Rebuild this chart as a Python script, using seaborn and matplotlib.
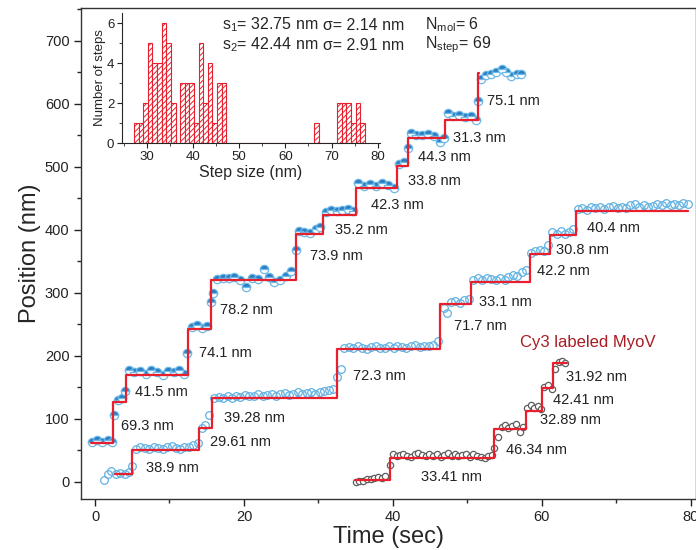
import matplotlib
matplotlib.use("Agg")
import matplotlib.pyplot as plt
from matplotlib.ticker import MultipleLocator
import seaborn as sns

# ---- trace 1 (upper, half filled blue markers) ----
a_time = [-0.4, 0.3, 1.0, 1.7, 2.3, 2.6, 3.1, 3.6, 4.0, 4.5, 5.2, 6.0, 6.8, 7.5, 8.3, 9.1, 9.8,
          10.6, 11.3, 12.0, 12.4, 13.0, 13.7, 14.4, 15.1, 15.6, 15.9, 16.4, 17.2, 18.0, 18.7,
          19.5, 20.3, 21.1, 21.9, 22.7, 23.4, 24.1, 24.9, 25.7, 26.3, 27.0, 27.4, 28.1, 28.9,
          29.7, 30.2, 31.0, 31.7, 32.5, 33.2, 34.0, 34.7, 35.3, 36.1, 36.9, 37.7, 38.5, 39.3,
          40.1, 40.8, 41.5, 42.0, 42.4, 43.1, 43.9, 44.7, 45.5, 46.3, 46.8, 47.4, 48.1, 48.9,
          49.7, 50.5, 51.2, 51.4, 51.8, 52.5, 53.2, 53.9, 54.6, 55.2, 55.9, 56.6, 57.2]
a_pos = [64, 66, 63, 67, 64, 106, 130, 133, 145, 178, 174, 176, 171, 177, 175, 170, 176,
         174, 177, 172, 205, 246, 249, 244, 247, 285, 300, 322, 324, 323, 325,
         321, 310, 324, 322, 338, 326, 318, 320, 327, 334, 368, 398, 396, 395,
         402, 405, 428, 432, 430, 431, 433, 430, 475, 470, 472, 469, 474, 471,
         466, 505, 507, 530, 553, 551, 550, 552, 549, 540, 545, 585, 580, 582,
         579, 580, 575, 605, 640, 645, 648, 650, 655, 651, 644, 648, 647]
a_fit_time = [-0.5, 2.47, 4.14, 12.43, 15.59, 27.03, 30.58, 35.02, 40.55, 42.03, 46.96,
              51.4, 51.5]
a_fit_pos = [62, 127, 170, 242, 320, 393, 423, 466, 501, 546, 575, 649, 649]

# ---- trace 2 (open light blue circles) ----
b_time = [1.2, 1.7, 2.2, 2.8, 3.4, 4.0, 4.5, 4.9, 5.5, 6.1, 6.7, 7.3, 7.9, 8.5, 9.1, 9.7,
          10.3, 10.9, 11.4, 12.0, 12.6, 13.2, 13.8, 14.3, 14.8, 15.3, 16.0, 16.6, 17.2, 17.8,
          18.4, 18.9, 19.5, 20.1, 20.7, 21.3, 21.9, 22.5, 23.1, 23.7, 24.3, 24.9, 25.5, 26.0,
          26.6, 27.2, 27.8, 28.4, 29.0, 29.6, 30.2, 30.8, 31.4, 32.0, 32.5, 33.0, 33.5, 34.1,
          34.7, 35.3, 35.9, 36.5, 37.1, 37.7, 38.3, 38.9, 39.5, 40.1, 40.6, 41.2, 41.8, 42.4,
          43.0, 43.6, 44.2, 44.8, 45.4, 46.0, 46.8, 47.3, 47.8, 48.4, 49.0, 49.6, 50.2, 50.8,
          51.4, 52.0, 52.6, 53.2, 53.8, 54.4, 55.0, 55.5, 56.1, 56.7, 57.3, 57.9, 58.5, 59.1,
          59.7, 60.3, 60.8, 61.4, 62.0, 62.6, 63.1, 63.7, 64.2, 64.8, 65.4, 66.0, 66.6, 67.2,
          67.8, 68.4, 69.0, 69.6, 70.2, 70.7, 71.3, 71.9, 72.5, 73.1, 73.7, 74.3, 74.9, 75.5,
          76.1, 76.7, 77.3, 77.8, 78.4, 79.0, 79.6]
b_pos = [3, 12, 17, 13, 15, 12, 16, 25, 52, 55, 54, 53, 56, 54, 52, 55,
         57, 54, 53, 56, 55, 58, 62, 86, 90, 106, 133, 135, 134, 136,
         134, 137, 135, 138, 136, 137, 139, 136, 138, 140, 137, 139, 141, 138,
         140, 142, 139, 141, 143, 140, 142, 144, 146, 148, 166, 180, 212, 214,
         212, 215, 213, 211, 214, 216, 213, 212, 215, 213, 216, 214, 212, 215,
         217, 214, 216, 215, 218, 224, 276, 268, 285, 287, 284, 289, 291, 320,
         323, 321, 324, 322, 320, 323, 321, 325, 329, 327, 333, 337, 364, 366,
         368, 366, 376, 396, 394, 398, 393, 397, 402, 433, 435, 432, 436, 434,
         437, 433, 436, 438, 435, 437, 434, 439, 441, 437, 440, 436, 438, 441,
         439, 442, 440, 441, 440, 442, 441]
b_fit_time = [2.66, 5.03, 14.01, 15.69, 32.56, 46.27, 50.51, 58.41, 61.07, 64.52, 79.62]
b_fit_pos = [12, 51, 86, 133, 211, 283, 317, 362, 392, 430, 430]

# ---- trace 3 (Cy3 labeled MyoV) ----
c_time = [35.0, 35.5, 36.0, 36.5, 37.0, 37.5, 38.0, 38.5, 39.0, 39.6, 40.0, 40.5, 40.9, 41.4,
          41.9, 42.4, 42.9, 43.4, 43.9, 44.4, 44.9, 45.4, 45.9, 46.4, 46.9, 47.4, 47.9, 48.3,
          48.8, 49.3, 49.8, 50.3, 50.8, 51.3, 51.8, 52.3, 52.8, 53.3, 53.6, 54.1, 54.6, 55.1,
          55.5, 56.0, 56.5, 57.0, 57.5, 58.0, 58.5, 59.0, 59.5, 59.9, 60.3, 60.8, 61.3, 61.8,
          62.3, 62.7, 63.1]
c_pos = [0, 2, 1, 4, 5, 6, 8, 7, 10, 27, 44, 42, 43, 45,
         41, 40, 44, 46, 43, 42, 45, 41, 44, 40, 43, 46, 42, 44,
         41, 43, 45, 39, 44, 42, 40, 38, 41, 43, 54, 72, 88, 90,
         86, 89, 92, 80, 88, 118, 122, 117, 120, 115, 150, 154, 148, 180,
         190, 192, 189]
c_fit_time = [34.93, 39.56, 53.57, 57.81, 60.08, 61.56, 63.34]
c_fit_pos = [3, 38, 84, 113, 149, 188, 188]

# step size labels
a_labels = ["69.3 nm", "41.5 nm", "74.1 nm", "78.2 nm", "73.9 nm", "35.2 nm",
            "42.3 nm", "33.8 nm", "44.3 nm", "31.3 nm", "75.1 nm"]
a_label_t = [3.55, 5.33, 13.91, 16.77, 28.91, 32.26, 37.1, 42.03, 43.31, 48.05, 52.68]
a_label_y = [89, 142, 204, 273, 358, 400, 439, 477, 516, 545, 604]
b_labels = ["38.9 nm", "29.61 nm", "39.28 nm", "72.3 nm", "71.7 nm", "33.1 nm",
            "42.2 nm", "30.8 nm", "40.4 nm"]
b_label_t = [6.91, 15.49, 17.36, 34.63, 48.15, 51.5, 59.39, 61.86, 66.0]
b_label_y = [22, 64, 101, 168, 248, 286, 335, 368, 403]
c_labels = ["33.41 nm", "46.34 nm", "32.89 nm", "42.41 nm", "31.92 nm"]
c_label_t = [43.81, 55.25, 59.69, 61.47, 63.24]
c_label_y = [8, 51, 98, 130, 166]

# ---- inset histogram of step sizes ----
hist_centers = [27.7, 28.7, 29.7, 30.7, 31.7, 32.7, 33.7, 34.7, 35.7, 37.7, 38.7, 39.7,
                40.7, 41.7, 42.7, 43.7, 44.7, 45.7, 46.7, 66.7, 71.7, 72.7, 73.7, 74.7,
                75.7, 76.7]
hist_counts = [1, 1, 2, 5, 4, 4, 6, 5, 2, 3, 3, 3,
               1, 5, 2, 4, 1, 3, 3, 1, 2, 2, 2, 1,
               2, 1]

RED = "#e8202e"

sns.set_style("ticks")
plt.rcParams["font.family"] = ["Liberation Sans", "DejaVu Sans"]
plt.rcParams["mathtext.default"] = "regular"
plt.rcParams["hatch.color"] = RED
plt.rcParams["hatch.linewidth"] = 0.7

fig = plt.figure(figsize=(6.96, 5.5), dpi=100)
ax = fig.add_axes([80.5 / 696, 51 / 550, 615.5 / 696, 491 / 550])

# data points
sns.lineplot(x=b_time, y=b_pos, estimator=None, sort=False, ax=ax, linestyle="",
             marker="o", markersize=5.5, markerfacecolor="none",
             markeredgecolor="#62b2e2", markeredgewidth=0.9, color="#62b2e2")
sns.lineplot(x=a_time, y=a_pos, estimator=None, sort=False, ax=ax, linestyle="",
             marker="o", markersize=6, fillstyle="top", markerfacecolor="#2a7cc2",
             markerfacecoloralt="white", markeredgecolor="#6cb9e6",
             markeredgewidth=0.9, color="#2a7cc2")
sns.lineplot(x=c_time, y=c_pos, estimator=None, sort=False, ax=ax, linestyle="",
             marker="o", markersize=4.5, markerfacecolor="white",
             markeredgecolor="#5e5e5e", markeredgewidth=0.9, color="#5e5e5e")

# step fits
for ft, fp in [(a_fit_time, a_fit_pos), (b_fit_time, b_fit_pos), (c_fit_time, c_fit_pos)]:
    sns.lineplot(x=ft, y=fp, estimator=None, sort=False, ax=ax, color=RED,
                 linewidth=1.6, drawstyle="steps-post", zorder=5)

for labels, lt, ly in [(a_labels, a_label_t, a_label_y), (b_labels, b_label_t, b_label_y),
                       (c_labels, c_label_t, c_label_y)]:
    for s, t, y in zip(labels, lt, ly):
        ax.text(t, y, s, fontsize=10.5, color="#222222", ha="left", va="center")

ax.text(57.03, 221, "Cy3 labeled MyoV", fontsize=12, color="#a81c24", ha="left", va="center")

ax.set_xlim(-1.95, 80.7)
ax.set_ylim(-27, 752)
ax.xaxis.set_major_locator(MultipleLocator(20))
ax.xaxis.set_minor_locator(MultipleLocator(10))
ax.yaxis.set_major_locator(MultipleLocator(100))
ax.yaxis.set_minor_locator(MultipleLocator(50))
ax.tick_params(which="major", direction="out", length=5, width=1, labelsize=10.5,
               colors="#222222", pad=3)
ax.tick_params(which="minor", direction="out", length=3, width=1)
for sp in ax.spines.values():
    sp.set_visible(True)
    sp.set_linewidth(1)
    sp.set_color("#333333")
ax.set_xlabel("Time (sec)", fontsize=17, labelpad=1)
ax.set_ylabel("Position (nm)", fontsize=17, labelpad=3)

# inset
axins = fig.add_axes([122 / 696, (550 - 143) / 550, 258 / 696, 130 / 550])
axins.patch.set_alpha(0)
sns.histplot(x=hist_centers, weights=hist_counts, binwidth=1, binrange=(27.2, 77.2),
             ax=axins, fill=True, facecolor="white", edgecolor=RED, hatch="//////",
             linewidth=0.8)
axins.set_xlim(24.6, 80.5)
axins.set_ylim(0, 6.5)
axins.xaxis.set_major_locator(MultipleLocator(10))
axins.xaxis.set_minor_locator(MultipleLocator(5))
axins.yaxis.set_major_locator(MultipleLocator(2))
axins.yaxis.set_minor_locator(MultipleLocator(1))
axins.tick_params(which="major", direction="out", length=3.5, labelsize=9.5, pad=2,
                  colors="#222222")
axins.tick_params(which="minor", direction="out", length=2)
sns.despine(ax=axins)
axins.set_xlabel("Step size (nm)", fontsize=11.5, labelpad=2)
axins.set_ylabel("Number of steps", fontsize=9.5, labelpad=0.5)

fig.text(221.7 / 696, 1 - 25 / 550, "s$_1$= 32.75 nm", fontsize=11.5, va="center")
fig.text(323.3 / 696, 1 - 25 / 550, "σ= 2.14 nm", fontsize=11.5, va="center")
fig.text(425 / 696, 1 - 25 / 550, "N$_{mol}$= 6", fontsize=11.5, va="center")
fig.text(221.7 / 696, 1 - 45 / 550, "s$_2$= 42.44 nm", fontsize=11.5, va="center")
fig.text(323.3 / 696, 1 - 45 / 550, "σ= 2.91 nm", fontsize=11.5, va="center")
fig.text(425 / 696, 1 - 45 / 550, "N$_{step}$= 69", fontsize=11.5, va="center")

fig.savefig("out.png", dpi=100)
